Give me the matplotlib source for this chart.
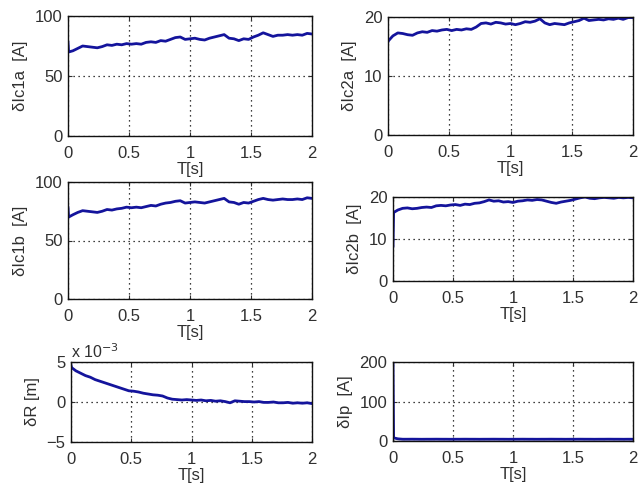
import numpy as np
import matplotlib
matplotlib.use('Agg')
import matplotlib.pyplot as plt

# tempo [s]: amostra inicial + passo de 0.04 s
t = np.concatenate([[0.0, 0.005], np.round(np.arange(0.04, 2.0001, 0.04), 2)])

ic1a = [78, 70,
        71, 73, 75, 74.5, 74, 73.5, 74.5, 76, 75.5, 76.5,
        76, 77, 76.5, 77, 76.5, 78, 78.5, 78, 79.5, 79,
        80.5, 82, 82.5, 80.5, 81, 81.5, 80.5, 80, 81.5, 82.5,
        83.5, 84.5, 81.5, 81, 79.5, 81, 80.5, 82.5, 84, 86,
        84.5, 83, 84, 84, 84.5, 84, 84.5, 84, 85.5, 85]

ic2a = [15.8, 16,
        16.8, 17.3, 17.2, 17.0, 16.9, 17.3, 17.5, 17.4, 17.7, 17.6,
        17.8, 17.9, 17.7, 17.9, 17.8, 18.0, 17.9, 18.3, 18.9, 19.0,
        18.8, 19.1, 19.0, 18.8, 18.9, 18.7, 18.9, 19.2, 19.1, 19.3,
        19.7, 19.0, 18.7, 18.9, 18.8, 18.7, 19.0, 19.2, 19.4, 19.8,
        19.4, 19.5, 19.6, 19.5, 19.7, 19.6, 19.8, 19.6, 19.9, 19.9]

ic1b = [78, 70,
        72, 74, 75.5, 75, 74.5, 74, 75, 76.5, 76, 77,
        77.5, 78.5, 78, 78.5, 78, 79, 80, 79.5, 81, 82,
        82.5, 83.5, 84, 82, 82.5, 83, 82.5, 82, 83, 84,
        85, 86, 83, 82.5, 81, 82.5, 82, 83.5, 85, 86,
        85, 84.5, 85, 85.5, 85, 85, 85.5, 85, 86.5, 86]

ic2b = [8.3, 16.3,
        16.9, 17.3, 17.4, 17.2, 17.3, 17.5, 17.6, 17.5, 17.9, 18.0,
        17.9, 18.1, 18.2, 18.0, 18.3, 18.2, 18.5, 18.6, 18.9, 19.3,
        19.0, 19.1, 18.8, 18.9, 18.7, 19.0, 19.1, 19.3, 19.2, 19.4,
        19.3, 19.0, 18.7, 18.5, 18.8, 19.0, 19.2, 19.5, 19.8, 20.0,
        19.7, 19.6, 19.8, 19.9, 19.8, 19.7, 19.9, 19.8, 19.9, 19.8]

# dR em unidades de 1e-3 m
dR = [4.6, 4.3,
      3.9, 3.6, 3.3, 3.1, 2.8, 2.6, 2.4, 2.2, 2.0, 1.8,
      1.6, 1.4, 1.35, 1.25, 1.1, 1.0, 0.9, 0.85, 0.75, 0.5,
      0.35, 0.3, 0.25, 0.3, 0.25, 0.2, 0.25, 0.15, 0.2, 0.1,
      0.15, 0.05, -0.1, 0.15, 0.1, 0.05, 0.05, 0.0, 0.05, -0.05,
      -0.05, 0.0, -0.1, -0.1, -0.05, -0.15, -0.1, -0.15, -0.1, -0.2]

ip = [200, 8,
      5.5, 4.5, 4.5, 4.6, 4.5, 4.4, 4.5, 4.5, 4.6, 4.5,
      4.5, 4.4, 4.5, 4.5, 4.6, 4.5, 4.5, 4.4, 4.5, 4.5,
      4.6, 4.5, 4.5, 4.4, 4.5, 4.5, 4.6, 4.5, 4.5, 4.4,
      4.5, 4.5, 4.6, 4.5, 4.5, 4.4, 4.5, 4.5, 4.6, 4.5,
      4.5, 4.4, 4.5, 4.5, 4.6, 4.5, 4.5, 4.4, 4.5, 4.5]

series = [ic1a, ic2a, ic1b, ic2b, dR, ip]
ylabels = ['δIc1a  [A]', 'δIc2a  [A]', 'δIc1b  [A]', 'δIc2b  [A]', 'δR [m]', 'δIp  [A]']
yticks = [[0, 50, 100], [0, 10, 20], [0, 50, 100], [0, 10, 20], [-5, 0, 5], [0, 100, 200]]
xticks = [0, 0.5, 1, 1.5, 2]
xticklabels = ['0', '0.5', '1', '1.5', '2']

# posicoes dos eixos em pixels (esq, dir, topo, base)
boxes = [(68, 312, 16, 136), (388, 633, 17, 135),
         (68, 312, 182, 299), (393, 633, 197, 281),
         (71, 312, 362, 442), (393, 633, 362, 441)]

plt.rcParams['font.family'] = ['Liberation Sans', 'DejaVu Sans']
txt = '#303030'

W, H = 638, 492
fig = plt.figure(figsize=(W / 100, H / 100), dpi=100)

for i in range(6):
    l, r, top, b = boxes[i]
    ax = fig.add_axes([l / W, 1 - b / H, (r - l) / W, (b - top) / H])
    ax.plot(t, series[i], color='#14149c', linewidth=2.0)
    ax.set_xlim(0, 2)
    ax.set_ylim(yticks[i][0], yticks[i][-1])
    ax.set_xticks(xticks)
    ax.set_xticklabels(xticklabels)
    ax.set_yticks(yticks[i])
    ax.grid(True, linestyle=(0, (1, 3)), color='black', linewidth=0.9)
    ax.tick_params(direction='in', length=3, top=True, right=True, labelsize=12,
                   colors=txt)
    ax.tick_params(axis='x', pad=7)
    ax.tick_params(axis='y', pad=4)
    for s in ax.spines.values():
        s.set_linewidth(1.0)
        s.set_color('#111111')
    ax.set_xlabel('T[s]', fontsize=12, color=txt, labelpad=1)
    ax.set_ylabel(ylabels[i], fontsize=12, color=txt, labelpad=5)
    if i == 4:
        ax.text(0.0, 1.05, r'x 10$^{-3}$', transform=ax.transAxes, fontsize=11.5, color=txt)

fig.savefig('out.png', dpi=100)
